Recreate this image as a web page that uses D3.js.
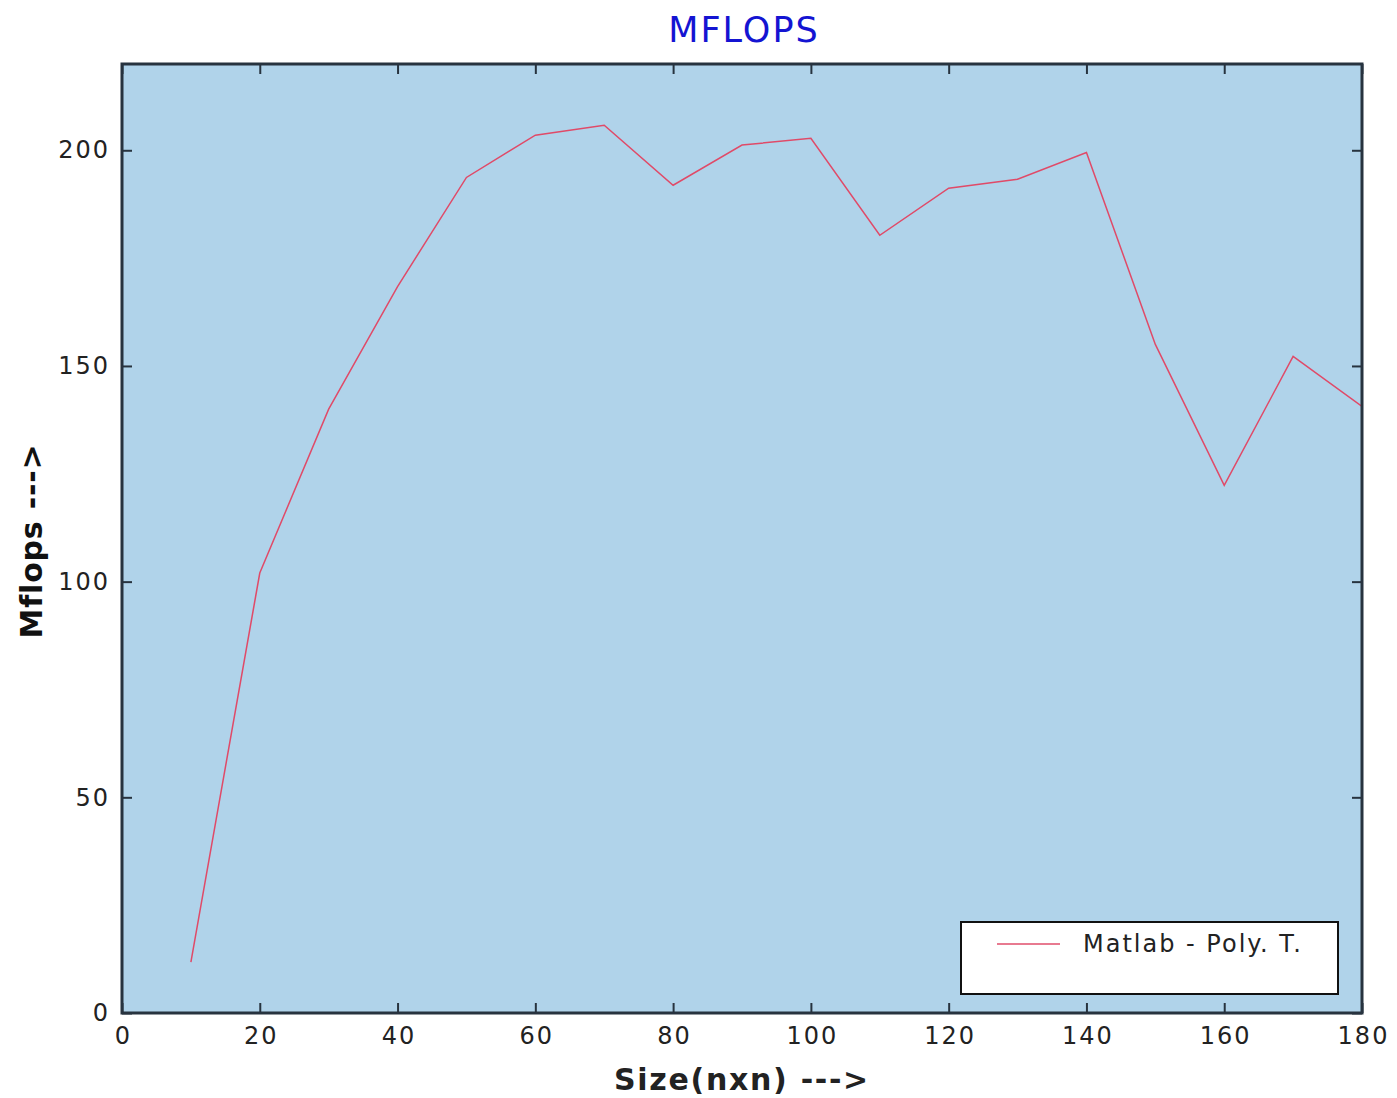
<!DOCTYPE html>
<html lang="en">
<head>
<meta charset="UTF-8">
<title>MFLOPS</title>
<script src="https://d3js.org/d3.v7.min.js"></script>
<style>
  body { margin: 0; background: #fff; }
  text { font-family: "DejaVu Sans", Verdana, sans-serif; }
</style>
</head>
<body>
<div id="chart"></div>
<script>
const sizes = [10, 20, 30, 40, 50, 60, 70, 80, 90, 100, 110, 120, 130, 140, 150, 160, 170, 180];
const mflops = [11.8, 102, 140, 168.4, 193.7, 203.5, 205.8, 191.9, 201.2, 202.8, 180.3, 191.2, 193.3, 199.5, 155, 122.3, 152.2, 140.6];
const xTicks = [0, 20, 40, 60, 80, 100, 120, 140, 160, 180];
const yTicks = [0, 50, 100, 150, 200];
const seriesName = "Matlab - Poly. T.";

const W = 1397, H = 1098;
const margin = { top: 64, right: 35, bottom: 85, left: 122 };
const width = W - margin.left - margin.right;
const height = H - margin.top - margin.bottom;

const svg = d3.select("#chart").append("svg")
    .attr("width", W).attr("height", H);

const g = svg.append("g")
    .attr("transform", `translate(${margin.left},${margin.top})`);

const x = d3.scaleLinear().domain([0, 180]).range([0, width]);
const y = d3.scaleLinear().domain([0, 220]).range([height, 0]);

g.append("rect")
    .attr("width", width).attr("height", height)
    .attr("fill", "#b0d3ea");

// ticks pointing inward on all sides
const tickLen = 10, frameColor = "#27333f";
const styleLabels = a => a.selectAll("text")
    .attr("font-size", 24).attr("fill", "#222")
    .attr("letter-spacing", "2px")
    .attr("font-family", "DejaVu Sans, Verdana, sans-serif");

g.append("g")
    .attr("transform", `translate(0,${height})`)
    .call(d3.axisBottom(x).tickValues(xTicks).tickSize(-tickLen).tickPadding(14))
    .call(a => a.select(".domain").remove())
    .call(a => a.selectAll("line").attr("stroke", frameColor).attr("stroke-width", 2))
    .call(styleLabels)
    .call(a => a.selectAll("text").attr("dx", 1));

g.append("g")
    .call(d3.axisTop(x).tickValues(xTicks).tickSize(-tickLen).tickFormat(""))
    .call(a => a.select(".domain").remove())
    .call(a => a.selectAll("line").attr("stroke", frameColor).attr("stroke-width", 2));

g.append("g")
    .call(d3.axisLeft(y).tickValues(yTicks).tickSize(-tickLen).tickPadding(12))
    .call(a => a.select(".domain").remove())
    .call(a => a.selectAll("line").attr("stroke", frameColor).attr("stroke-width", 2))
    .call(styleLabels);

g.append("g")
    .attr("transform", `translate(${width},0)`)
    .call(d3.axisRight(y).tickValues(yTicks).tickSize(-tickLen).tickFormat(""))
    .call(a => a.select(".domain").remove())
    .call(a => a.selectAll("line").attr("stroke", frameColor).attr("stroke-width", 2));

// data line
g.append("clipPath").attr("id", "clip")
    .append("rect").attr("width", width).attr("height", height);

g.append("path")
    .datum(sizes.map((s, i) => [s, mflops[i]]))
    .attr("clip-path", "url(#clip)")
    .attr("fill", "none")
    .attr("stroke", "#e04a68")
    .attr("stroke-width", 1.5)
    .attr("d", d3.line().x(d => x(d[0])).y(d => y(d[1])));

// frame
g.append("rect")
    .attr("width", width).attr("height", height)
    .attr("fill", "none")
    .attr("stroke", frameColor)
    .attr("stroke-width", 3);

// legend
const lg = g.append("g")
    .attr("transform", `translate(${961 - margin.left},${922 - margin.top})`);
lg.append("rect")
    .attr("width", 377).attr("height", 72)
    .attr("fill", "#fff")
    .attr("stroke", "#111")
    .attr("stroke-width", 2);
lg.append("line")
    .attr("x1", 36).attr("x2", 99).attr("y1", 22).attr("y2", 22)
    .attr("stroke", "#e87a90").attr("stroke-width", 2);
lg.append("text")
    .attr("x", 122).attr("y", 30)
    .attr("font-size", 24).attr("fill", "#222")
    .attr("letter-spacing", "2px")
    .text(seriesName);

// title and axis labels
svg.append("text")
    .attr("x", 744).attr("y", 42)
    .attr("text-anchor", "middle")
    .attr("font-size", 35).attr("fill", "#1414d2")
    .attr("letter-spacing", "2px")
    .text("MFLOPS");

svg.append("text")
    .attr("x", 742).attr("y", 1090)
    .attr("text-anchor", "middle")
    .attr("font-size", 30).attr("font-weight", "bold").attr("fill", "#222")
    .attr("letter-spacing", "1.7px")
    .text("Size(nxn) --->");

svg.append("text")
    .attr("transform", `translate(42,541) rotate(-90)`)
    .attr("text-anchor", "middle")
    .attr("font-size", 30).attr("font-weight", "bold").attr("fill", "#111")
    .attr("letter-spacing", "0.8px")
    .text("Mflops --->");
</script>
</body>
</html>
